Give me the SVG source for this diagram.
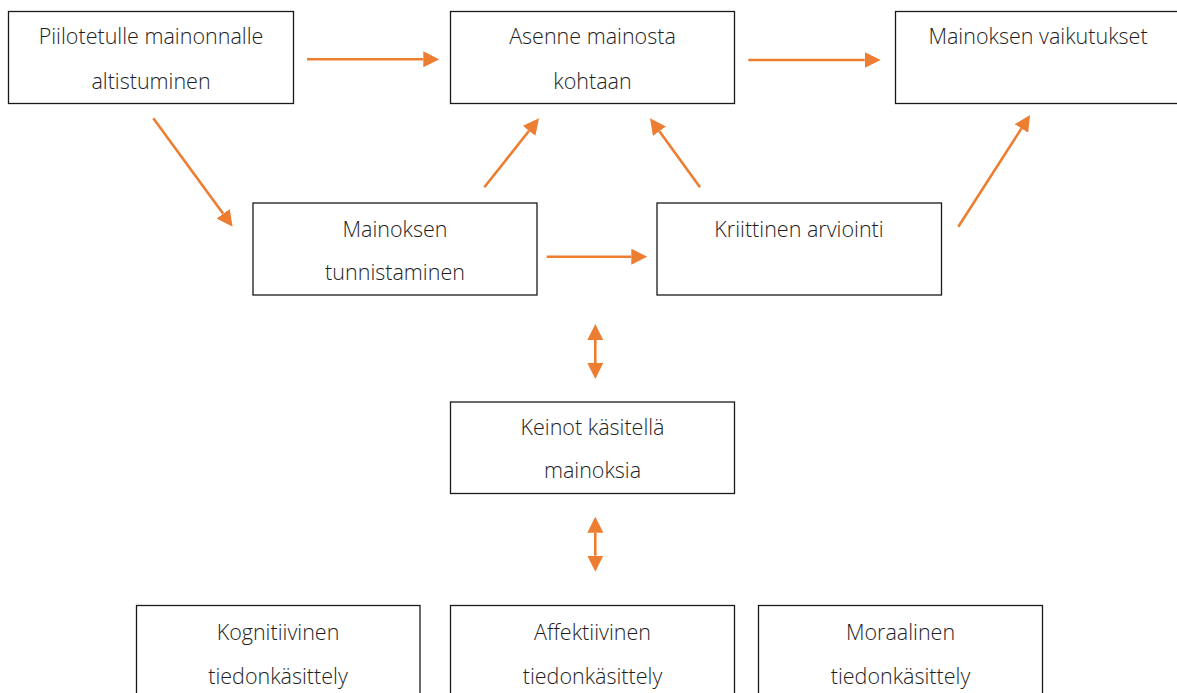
<svg xmlns="http://www.w3.org/2000/svg" width="1177" height="693" viewBox="0 0 1177 693">
  <style>
    .box { fill: #ffffff; stroke: #1a1a1a; stroke-width: 1.3; }
    .lbl { font-family: "Open Sans", "Noto Sans", "DejaVu Sans", sans-serif; font-weight: 300; font-size: 21.5px; fill: #1e1e1e; text-anchor: middle; }
    .arrow { stroke: #ED7D31; stroke-width: 2.6; fill: none; }
  </style>
  <defs>
    <marker id="head" viewBox="0 0 16 16" refX="0" refY="8" markerWidth="16" markerHeight="16" markerUnits="userSpaceOnUse" orient="auto-start-reverse">
      <path d="M0,0 L16,8 L0,16 z" fill="#ED7D31"/>
    </marker>
  </defs>
  <rect width="1177" height="693" fill="#ffffff"/>

  <!-- top row -->
  <g id="altistuminen">
    <rect class="box" x="8.5" y="11.5" width="285" height="92"/>
    <text class="lbl" x="151" y="44">Piilotetulle mainonnalle</text>
    <text class="lbl" x="151" y="88.5">altistuminen</text>
  </g>
  <g id="asenne">
    <rect class="box" x="450.5" y="11.5" width="284" height="92"/>
    <text class="lbl" x="592.5" y="44">Asenne mainosta</text>
    <text class="lbl" x="592.5" y="88.5">kohtaan</text>
  </g>
  <g id="vaikutukset">
    <rect class="box" x="895.5" y="11.5" width="285" height="92"/>
    <text class="lbl" x="1038" y="43.5">Mainoksen vaikutukset</text>
  </g>

  <!-- middle row -->
  <g id="tunnistaminen">
    <rect class="box" x="253" y="203" width="284" height="92"/>
    <text class="lbl" x="395" y="236.5">Mainoksen</text>
    <text class="lbl" x="395" y="280">tunnistaminen</text>
  </g>
  <g id="arviointi">
    <rect class="box" x="657" y="203" width="284.5" height="92"/>
    <text class="lbl" x="799" y="236.5">Kriittinen arviointi</text>
  </g>

  <g id="keinot">
    <rect class="box" x="450.5" y="402" width="284" height="91.5"/>
    <text class="lbl" x="592.5" y="434.5">Keinot käsitellä</text>
    <text class="lbl" x="592.5" y="478">mainoksia</text>
  </g>

  <!-- bottom row -->
  <g id="kognitiivinen">
    <rect class="box" x="136.5" y="605.5" width="283.5" height="100"/>
    <text class="lbl" x="278" y="640">Kognitiivinen</text>
    <text class="lbl" x="278" y="684">tiedonkäsittely</text>
  </g>
  <g id="affektiivinen">
    <rect class="box" x="450.5" y="605.5" width="284" height="100"/>
    <text class="lbl" x="592.5" y="640">Affektiivinen</text>
    <text class="lbl" x="592.5" y="684">tiedonkäsittely</text>
  </g>
  <g id="moraalinen">
    <rect class="box" x="758.5" y="605.5" width="284" height="100"/>
    <text class="lbl" x="900.5" y="640">Moraalinen</text>
    <text class="lbl" x="900.5" y="684">tiedonkäsittely</text>
  </g>

  <g id="connectors">
    <line class="arrow" x1="307" y1="59.3" x2="423.3" y2="59.3" marker-end="url(#head)"/>
    <line class="arrow" x1="748.3" y1="60" x2="864.7" y2="60" marker-end="url(#head)"/>
    <line class="arrow" x1="153.3" y1="118.3" x2="223.2" y2="213.8" marker-end="url(#head)"/>
    <line class="arrow" x1="484.3" y1="187.3" x2="529.1" y2="130.8" marker-end="url(#head)"/>
    <line class="arrow" x1="700" y1="187.3" x2="659.4" y2="131.3" marker-end="url(#head)"/>
    <line class="arrow" x1="546.7" y1="256.7" x2="631.3" y2="256.7" marker-end="url(#head)"/>
    <line class="arrow" x1="958.3" y1="226.7" x2="1021.4" y2="128.5" marker-end="url(#head)"/>
    <line class="arrow" x1="595.3" y1="340" x2="595.3" y2="363" marker-start="url(#head)" marker-end="url(#head)"/>
    <line class="arrow" x1="595.3" y1="532.7" x2="595.3" y2="555.7" marker-start="url(#head)" marker-end="url(#head)"/>
  </g>
</svg>
